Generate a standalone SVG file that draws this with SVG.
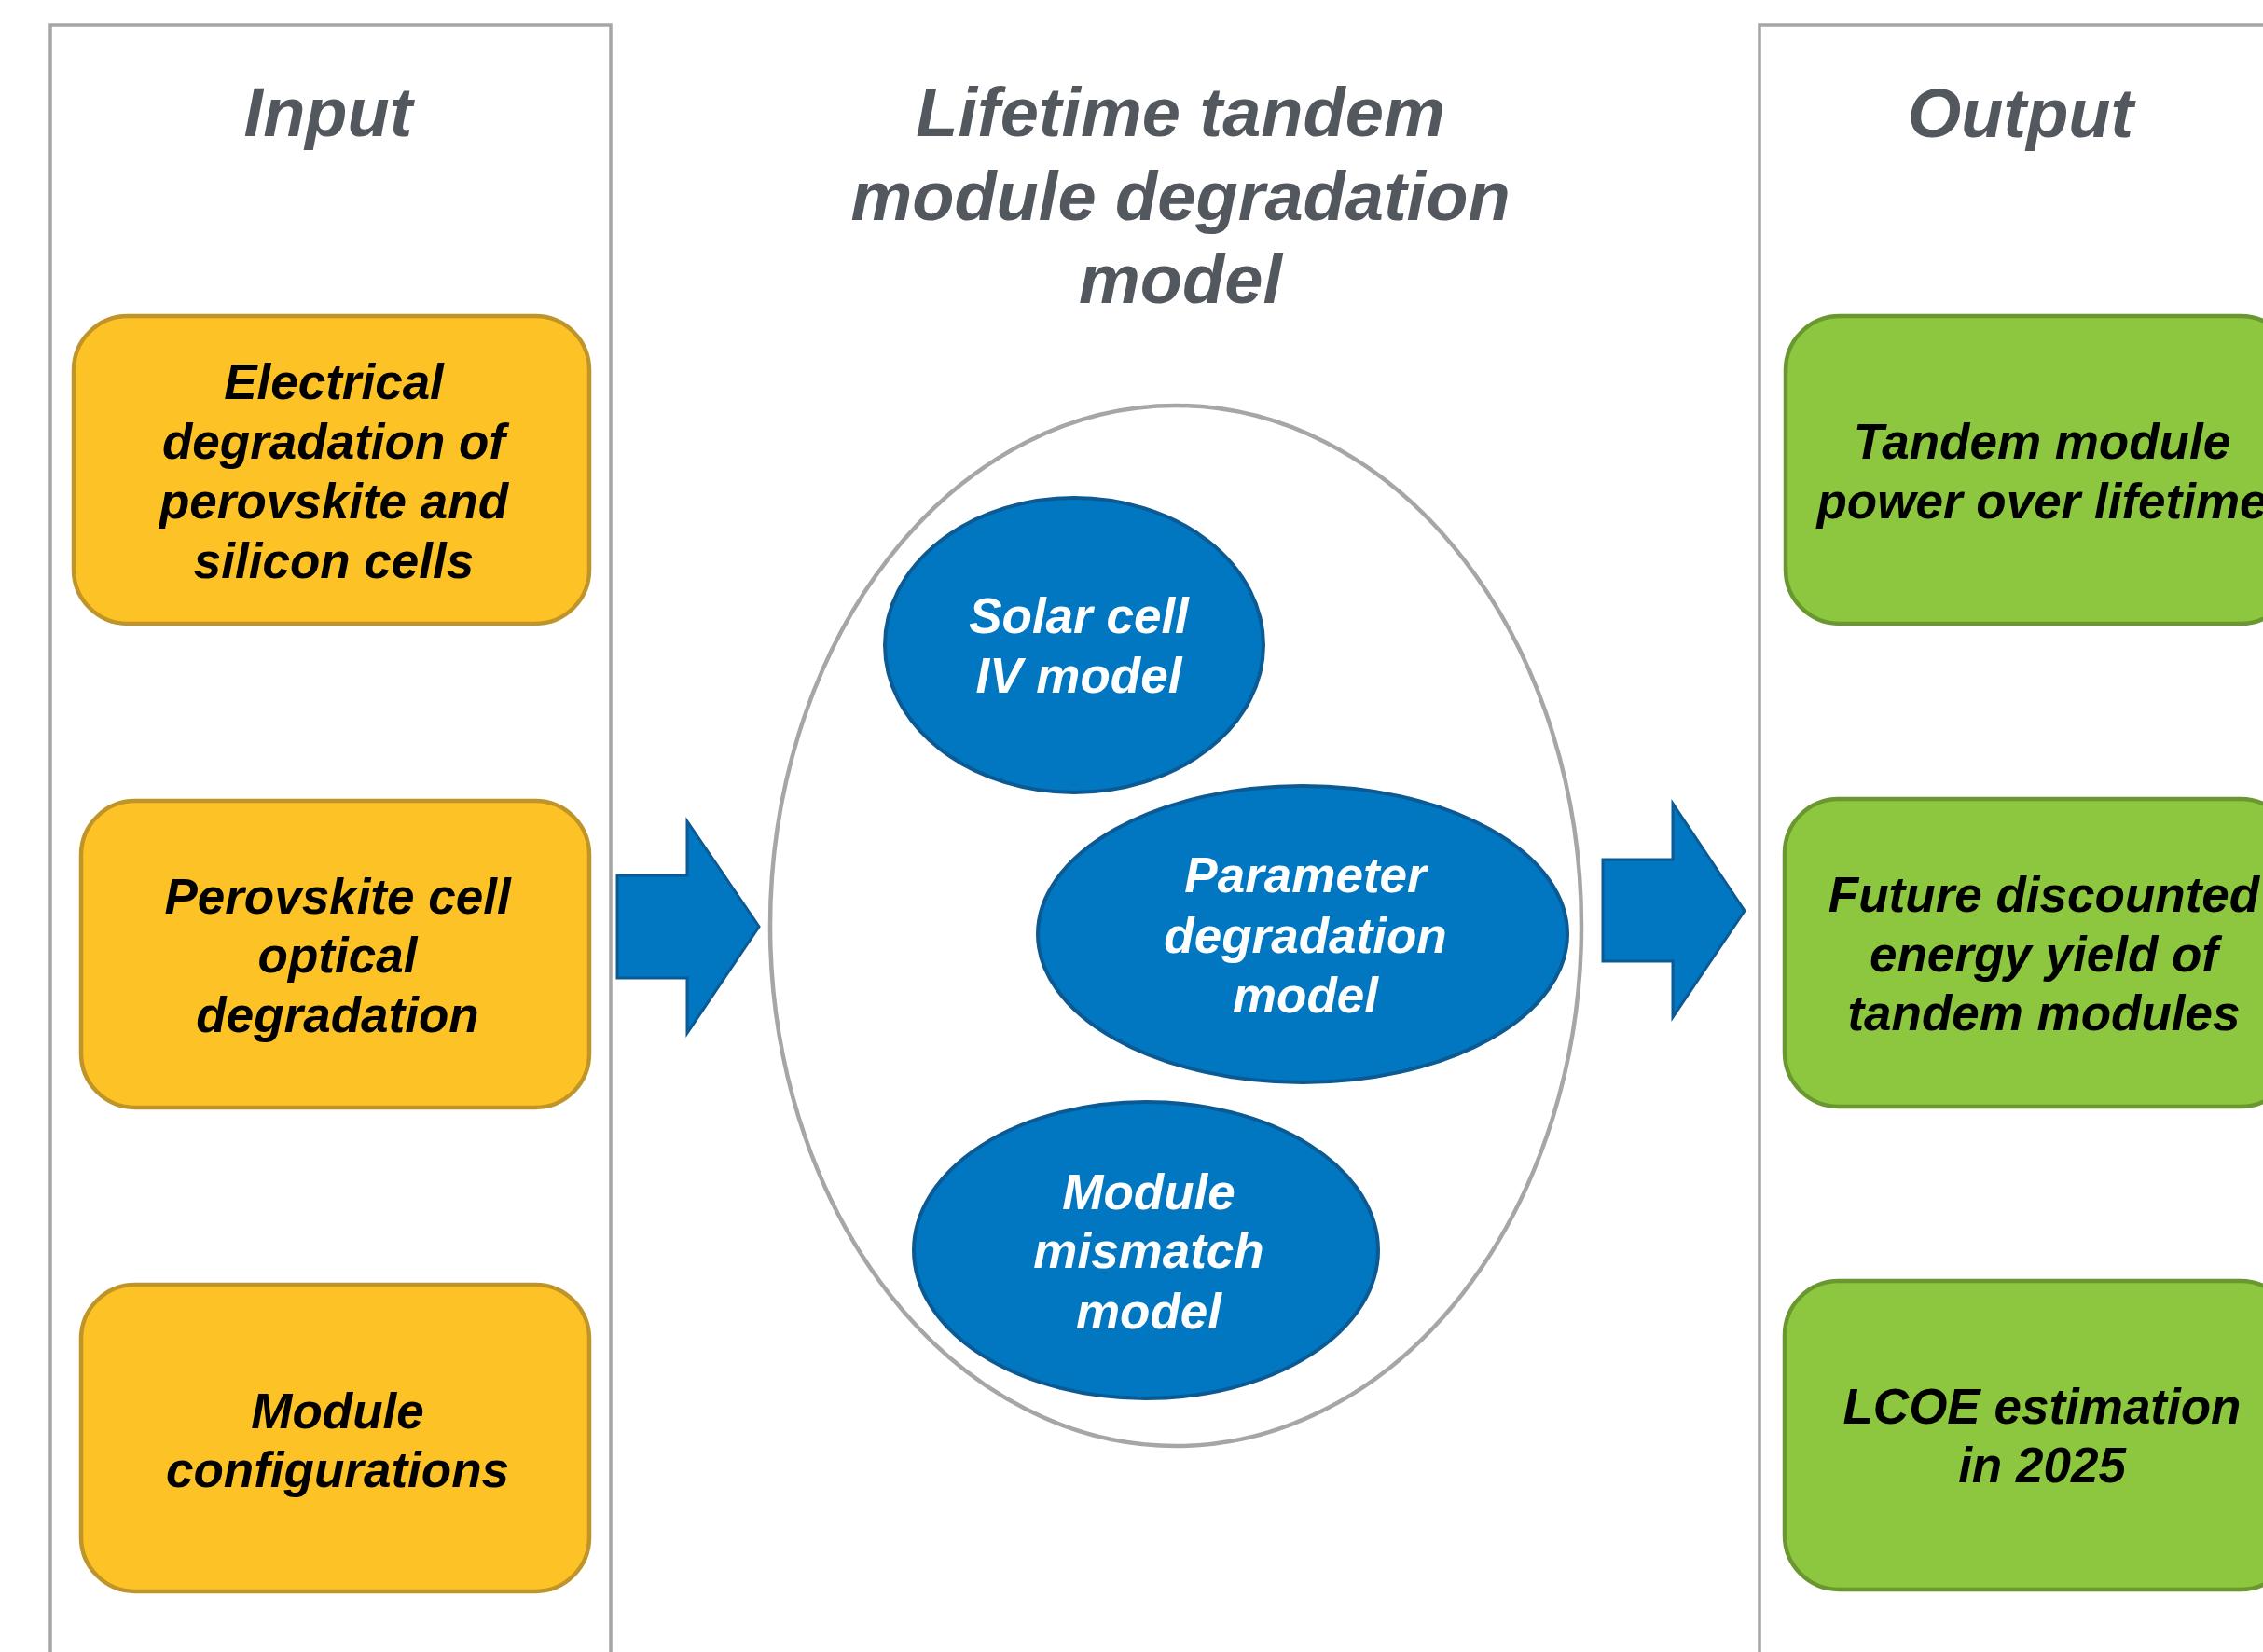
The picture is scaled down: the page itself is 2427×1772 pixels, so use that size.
<svg xmlns="http://www.w3.org/2000/svg" width="2427" height="1772" viewBox="0 0 2427 1772">
  <style>
    text { font-family: "Liberation Sans", Arial, sans-serif; font-weight: bold; font-style: italic; text-anchor: middle; }
    .title { font-size: 74px; fill: #53575E; }
    .label { font-size: 53px; fill: #000000; }
    .wlabel { font-size: 53px; fill: #FFFFFF; }
    .panel { fill: #FFFFFF; stroke: #A6A6A6; stroke-width: 3.5; }
    .frame { fill: #FFFFFF; stroke: #A6A6A6; stroke-width: 4.5; }
    .input { fill: #FDC326; stroke: #BF9428; stroke-width: 4.5; }
    .output { fill: #8DC63F; stroke: #6A972F; stroke-width: 4.5; }
    .model { fill: #0077C0; stroke: #0B5A94; stroke-width: 4; }
    .flow { fill: #0077C0; stroke: #0B5A94; stroke-width: 3; stroke-linejoin: miter; }
  </style>

  <rect width="2427" height="1772" fill="#FFFFFF"/>

  <!-- column frames -->
  <g id="input-panel">
    <rect class="panel" x="54" y="27" width="601" height="1800"/>
    <text class="title" x="352" y="146">Input</text>
  </g>
  <g id="output-panel">
    <rect class="panel" x="1887" y="27" width="700" height="1800"/>
    <text class="title" x="2167" y="147">Output</text>
  </g>

  <!-- central model -->
  <g id="model-frame">
    <text class="title" x="1266" y="146">Lifetime tandem</text>
    <text class="title" x="1266" y="236">module degradation</text>
    <text class="title" x="1266" y="325">model</text>
    <ellipse class="frame" cx="1261" cy="993" rx="435" ry="558"/>
  </g>

  <g id="solar-cell-iv">
    <ellipse class="model" cx="1152" cy="692" rx="203" ry="158"/>
    <text class="wlabel" x="1157" y="679">Solar cell</text>
    <text class="wlabel" x="1157" y="743">IV model</text>
  </g>
  <g id="parameter-degradation">
    <ellipse class="model" cx="1397" cy="1002" rx="284" ry="159"/>
    <text class="wlabel" x="1400" y="957">Parameter</text>
    <text class="wlabel" x="1400" y="1022">degradation</text>
    <text class="wlabel" x="1400" y="1086">model</text>
  </g>
  <g id="module-mismatch">
    <ellipse class="model" cx="1229" cy="1341" rx="249" ry="159"/>
    <text class="wlabel" x="1232" y="1297">Module</text>
    <text class="wlabel" x="1232" y="1360">mismatch</text>
    <text class="wlabel" x="1232" y="1425">model</text>
  </g>

  <!-- inputs -->
  <g id="electrical-degradation">
    <rect class="input" x="79" y="339" width="553" height="330" rx="58" ry="58"/>
    <text class="label" x="358" y="428">Electrical</text>
    <text class="label" x="358" y="492">degradation of</text>
    <text class="label" x="358" y="556">perovskite and</text>
    <text class="label" x="358" y="620">silicon cells</text>
  </g>
  <g id="optical-degradation">
    <rect class="input" x="87" y="859" width="545" height="329" rx="58" ry="58"/>
    <text class="label" x="362" y="980">Perovskite cell</text>
    <text class="label" x="362" y="1043">optical</text>
    <text class="label" x="362" y="1107">degradation</text>
  </g>
  <g id="module-configurations">
    <rect class="input" x="87" y="1378" width="545" height="329" rx="58" ry="58"/>
    <text class="label" x="362" y="1532">Module</text>
    <text class="label" x="362" y="1595">configurations</text>
  </g>

  <!-- outputs -->
  <g id="module-power">
    <rect class="output" x="1915" y="339" width="546" height="330" rx="58" ry="58"/>
    <text class="label" x="2190" y="492">Tandem module</text>
    <text class="label" x="2190" y="556">power over lifetime</text>
  </g>
  <g id="discounted-yield">
    <rect class="output" x="1914" y="857" width="547" height="330" rx="58" ry="58"/>
    <text class="label" x="2192" y="978">Future discounted</text>
    <text class="label" x="2192" y="1042">energy yield of</text>
    <text class="label" x="2192" y="1105">tandem modules</text>
  </g>
  <g id="lcoe">
    <rect class="output" x="1914" y="1374" width="547" height="331" rx="58" ry="58"/>
    <text class="label" x="2190" y="1527">LCOE estimation</text>
    <text class="label" x="2190" y="1590">in 2025</text>
  </g>

  <!-- flow arrows -->
  <g id="connectors">
    <polygon class="flow" points="662,939 737,939 737,881 814,994 737,1108 737,1049 662,1049"/>
    <polygon class="flow" points="1719,922 1794,922 1794,862 1871,977 1794,1091 1794,1031 1719,1031"/>
  </g>
</svg>
